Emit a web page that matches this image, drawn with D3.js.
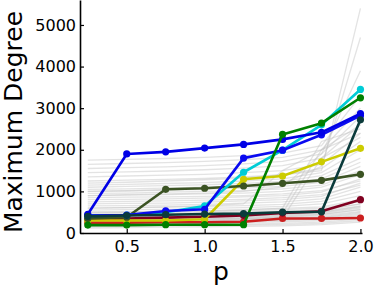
<!DOCTYPE html>
<html>
<head>
<meta charset="utf-8">
<script src="https://cdn.jsdelivr.net/npm/d3@7"></script>
<style>
  body { margin: 0; background: #fff; }
  text { font-family: "DejaVu Sans", sans-serif; }
</style>
</head>
<body>
<div id="chart"></div>
<script>
// p values on the x axis
var pValues = [0.25, 0.5, 0.75, 1.0, 1.25, 1.5, 1.75, 2.0];

var xTicks = [0.5, 1.0, 1.5, 2.0];
var yTicks = [0, 1000, 2000, 3000, 4000, 5000];

// background runs (light grey)
var grayRuns = [
  [120, 130, 140, 150, 160, 170, 200, 260],
  [150, 160, 170, 180, 190, 200, 230, 300],
  [180, 185, 190, 200, 210, 230, 260, 340],
  [200, 210, 220, 230, 250, 270, 300, 380],
  [230, 240, 250, 260, 280, 300, 340, 420],
  [250, 260, 270, 290, 300, 320, 360, 450],
  [270, 275, 280, 290, 310, 330, 370, 480],
  [280, 290, 300, 310, 330, 350, 390, 500],
  [300, 310, 320, 330, 350, 380, 420, 520],
  [320, 325, 330, 340, 360, 390, 440, 560],
  [330, 340, 350, 360, 380, 410, 450, 560],
  [350, 360, 370, 380, 400, 430, 470, 600],
  [370, 375, 385, 395, 410, 440, 490, 620],
  [380, 390, 400, 410, 430, 460, 500, 640],
  [400, 410, 420, 440, 460, 480, 520, 650],
  [430, 440, 450, 460, 480, 500, 540, 700],
  [450, 460, 470, 480, 500, 520, 560, 700],
  [480, 490, 500, 510, 530, 560, 600, 760],
  [500, 510, 520, 540, 560, 590, 630, 800],
  [550, 560, 570, 590, 610, 640, 700, 900],
  [600, 610, 620, 640, 660, 690, 760, 1000],
  [650, 660, 670, 690, 720, 750, 820, 1100],
  [700, 710, 720, 740, 770, 800, 880, 1200],
  [750, 760, 770, 790, 810, 850, 920, 1150],
  [800, 810, 820, 840, 870, 900, 980, 1300],
  [850, 860, 870, 880, 900, 940, 1020, 1250],
  [900, 910, 920, 940, 960, 1000, 1100, 1400],
  [950, 960, 980, 1000, 1020, 1060, 1150, 1500],
  [1000, 1010, 1030, 1050, 1080, 1120, 1220, 1600],
  [1050, 1060, 1080, 1100, 1130, 1180, 1300, 1700],
  [1100, 1120, 1140, 1160, 1190, 1240, 1380, 1800],
  [1150, 1170, 1190, 1210, 1250, 1300, 1450, 2000],
  [1250, 1270, 1290, 1310, 1350, 1400, 1550, 2200],
  [1350, 1370, 1390, 1410, 1450, 1500, 1650, 2400],
  [1450, 1470, 1490, 1520, 1560, 1620, 1800, 2600],
  [1550, 1570, 1590, 1620, 1660, 1720, 1900, 2800],
  [1650, 1670, 1690, 1720, 1760, 1820, 2000, 3000],
  [1750, 1770, 1790, 1820, 1860, 1920, 2100, 3300],
  [1200, 1220, 1250, 1280, 1320, 1400, 1500, 5400],
  [1000, 1020, 1040, 1070, 1110, 1180, 1600, 4700],
  [900, 920, 940, 960, 1000, 1100, 1900, 3900],
  [400, 410, 420, 430, 450, 480, 2000, 2600],
  [300, 310, 320, 330, 340, 360, 1800, 2300],
  [500, 510, 520, 530, 550, 600, 2200, 2500],
  [600, 610, 630, 650, 700, 1500, 2000, 2400]
];

// highlighted runs
var seriesNames = ["red", "maroon", "yellow", "olive", "cyan", "blue2", "blue1", "green", "teal"];
var seriesColors = ["#cc1f1f", "#800020", "#cccc00", "#3b5323", "#00ccd6", "#0a0af0", "#0000e6", "#008000", "#0b3b3b"];
var seriesValues = [
  [250, 250, 260, 260, 270, 350, 350, 360],
  [330, 350, 370, 390, 420, 480, 520, 800],
  [300, 300, 300, 330, 1290, 1370, 1710, 2035],
  [350, 380, 1050, 1075, 1130, 1195, 1265, 1410],
  [420, 430, 500, 650, 1460, 1990, 2600, 3450],
  [420, 430, 530, 570, 1800, 1990, 2360, 2820],
  [450, 1900, 1950, 2040, 2130, 2250, 2420, 2870],
  [190, 190, 200, 200, 200, 2370, 2640, 3250],
  [400, 420, 440, 455, 465, 500, 510, 2720]
];

var W = 375, H = 291;
var margin = {top: 0, right: 13, bottom: 58, left: 80};
var width = W - margin.left - margin.right,
    height = H - margin.top - margin.bottom;

var svg = d3.select("#chart")
  .append("svg")
    .attr("width", W)
    .attr("height", H);

var g = svg.append("g")
    .attr("transform", "translate(" + margin.left + "," + margin.top + ")");

var x = d3.scaleLinear()
  .domain([0.2, 2.01])
  .range([0, width]);

var y = d3.scaleLinear()
  .domain([0, 5600])
  .range([height, 0]);

var line = d3.line()
  .x(function(d, i) { return x(pValues[i]); })
  .y(function(d) { return y(d); });

// grey background lines
g.append("g")
  .selectAll("path")
  .data(grayRuns)
  .enter()
  .append("path")
    .attr("d", line)
    .attr("fill", "none")
    .attr("stroke", "#c0c0c0")
    .attr("stroke-opacity", 0.45)
    .attr("stroke-width", 1.3);

// coloured series
var series = seriesValues.map(function(v, i) {
  return {name: seriesNames[i], color: seriesColors[i], values: v};
});

var sg = g.append("g")
  .selectAll("g")
  .data(series)
  .enter()
  .append("g");

sg.append("path")
  .attr("d", function(d) { return line(d.values); })
  .attr("fill", "none")
  .attr("stroke", function(d) { return d.color; })
  .attr("stroke-width", 2.6)
  .attr("stroke-linejoin", "round");

sg.selectAll("circle")
  .data(function(d) { return d.values.map(function(v, i) { return {v: v, i: i, color: d.color}; }); })
  .enter()
  .append("circle")
    .attr("cx", function(d) { return x(pValues[d.i]); })
    .attr("cy", function(d) { return y(d.v); })
    .attr("r", 3.6)
    .attr("fill", function(d) { return d.color; });

// axes
var xAxis = g.append("g")
  .attr("transform", "translate(0," + height + ")")
  .call(d3.axisBottom(x).tickValues(xTicks).tickFormat(d3.format(".1f")).tickSizeInner(-4).tickSizeOuter(0).tickPadding(8));

var yAxis = g.append("g")
  .call(d3.axisLeft(y).tickValues(yTicks).tickFormat(d3.format("d")).tickSizeInner(-4).tickSizeOuter(0).tickPadding(4));

[xAxis, yAxis].forEach(function(a) {
  a.select(".domain").attr("stroke", "#000").attr("stroke-width", 1.6);
  a.selectAll(".tick line").attr("stroke", "#000").attr("stroke-width", 1.2);
  a.selectAll(".tick text")
    .attr("fill", "#000")
    .style("font-family", "'DejaVu Sans', sans-serif")
    .style("font-size", "16px");
});

// axis titles
svg.append("text")
  .attr("x", margin.left + width / 2)
  .attr("y", 280)
  .attr("text-anchor", "middle")
  .style("font-size", "25px")
  .text("p");

svg.append("text")
  .attr("transform", "translate(22," + 122 + ") rotate(-90)")
  .attr("text-anchor", "middle")
  .style("font-size", "25px")
  .text("Maximum Degree");
</script>
</body>
</html>
